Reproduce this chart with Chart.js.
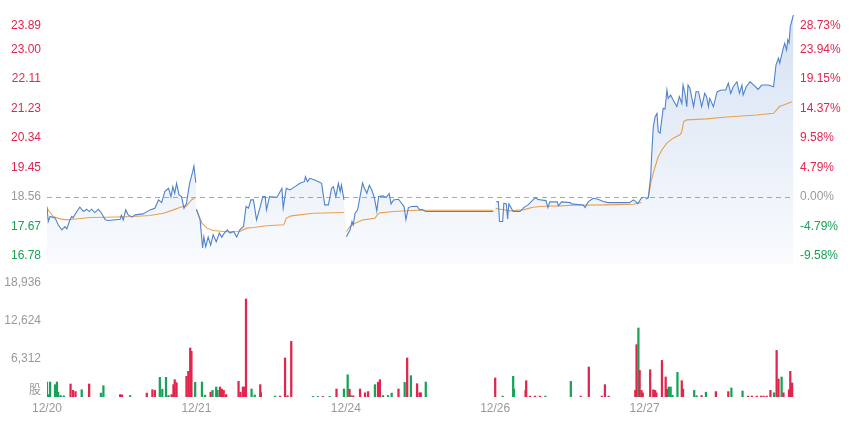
<!DOCTYPE html>
<html>
<head>
<meta charset="utf-8">
<script src="https://cdn.jsdelivr.net/npm/chart.js@4.4.1/dist/chart.umd.min.js"></script>
<style>
  html, body { margin: 0; padding: 0; background: #fff; }
  #wrap { position: relative; width: 856px; height: 429px; }
</style>
</head>
<body>
<div id="wrap"><canvas id="chart" width="856" height="429"></canvas></div>
<script>
// trading days on the x axis, 241 minutes each
const days = ['12/20', '12/21', '12/24', '12/26', '12/27'];
const preClose = 18.56;

const priceTicks = [16.78, 17.67, 18.56, 19.45, 20.34, 21.23, 22.11, 23.00, 23.89];
const pctTicks = ['-9.58%', '-4.79%', '0.00%', '4.79%', '9.58%', '14.37%', '19.15%', '23.94%', '28.73%'];
const volTicks = [6312, 12624, 18936];

// [minute of session, price]
const price1 = [[0,18.27],[2,17.82],[5,17.97],[13,17.93],[18,17.72],[24,17.57],[29,17.67],[32,17.60],[37,17.87],[40,17.97],
  [42,17.93],[48,18.12],[53,18.25],[59,18.12],[64,18.19],[68,18.12],[72,18.19],[77,18.09],[83,18.19],[88,18.07],
  [94,17.87],[99,17.85],[118,17.89],[120,18.01],[123,17.87],[127,18.17],[131,18.02],[137,17.95],[142,18.02],[155,18.05],
  [166,18.17],[174,18.22],[180,18.47],[185,18.39],[190,18.72],[196,18.82],[200,18.57],[203,18.87],[206,18.67],[209,18.97],
  [213,18.62],[217,18.57],[221,18.22],[225,18.37],[230,18.97],[235,19.32],[237,19.49],[240,18.99]];
const price2 = [[0,18.19],[6,17.87],[10,17.02],[12,17.36],[15,17.06],[19,17.35],[23,17.11],[27,17.42],[32,17.21],[37,17.47],
  [41,17.35],[45,17.47],[50,17.57],[54,17.47],[60,17.52],[65,17.35],[70,17.57],[76,17.67],[80,18.27],[84,18.22],
  [88,18.47],[92,18.47],[97,17.87],[103,18.27],[107,18.57],[111,18.57],[113,18.17],[118,18.57],[130,18.55],[138,18.82],
  [140,18.22],[145,18.82],[151,18.77],[159,18.87],[167,18.97],[174,19.02],[176,19.17],[179,19.02],[183,19.12],[191,19.07],
  [202,18.97],[207,18.32],[213,18.32],[218,18.82],[221,18.87],[225,18.57],[229,18.97],[232,18.72],[234,18.92],[238,18.47]];
const price3 = [[1,17.36],[4,17.47],[7,17.57],[10,17.82],[12,17.72],[15,18.07],[19,18.17],[23,18.57],[27,18.98],[30,18.82],
  [34,18.67],[38,18.91],[42,18.76],[46,18.54],[50,18.14],[53,18.57],[60,18.59],[65,18.54],[70,18.66],[73,18.35],
  [77,18.47],[85,18.49],[90,18.37],[94,18.27],[97,17.88],[101,18.24],[106,18.27],[115,18.28],[119,18.17],[123,18.18],
  [129,18.12],[238,18.12]];
const price4 = [[2,18.42],[5,18.42],[7,17.82],[12,17.82],[14,18.37],[18,18.35],[20,17.90],[22,18.35],[29,18.12],[40,18.12],
  [46,18.24],[53,18.32],[61,18.47],[65,18.54],[69,18.48],[82,18.45],[85,18.24],[88,18.41],[100,18.41],[102,18.29],
  [107,18.41],[121,18.39],[123,18.35],[142,18.32],[145,18.24],[150,18.41],[158,18.52],[166,18.49],[174,18.42],[182,18.39],
  [217,18.39],[223,18.47],[227,18.41],[230,18.36],[236,18.53],[239,18.55]];
const price5 = [[2,18.50],[6,18.54],[10,19.22],[11,19.67],[14,20.67],[17,20.98],[20,21.08],[22,20.53],[25,20.48],[30,21.23],
  [33,21.21],[36,21.78],[38,21.53],[42,21.63],[46,21.48],[52,21.28],[56,21.58],[60,21.38],[62,21.93],[65,21.69],
  [68,21.28],[70,21.93],[73,21.84],[79,21.28],[83,21.73],[87,21.73],[92,21.28],[97,21.68],[100,21.58],[103,21.28],
  [105,21.53],[111,21.28],[117,21.73],[124,21.78],[131,21.78],[135,21.99],[139,21.68],[143,21.88],[149,22.03],[153,21.68],
  [157,21.93],[159,21.63],[164,21.88],[170,22.03],[178,21.90],[183,21.80],[189,21.93],[200,21.93],[208,21.88],[212,22.54],
  [216,22.74],[218,22.59],[223,22.99],[226,23.19],[229,22.99],[231,23.29],[233,23.20],[235,23.69],[240,24.04]];

// [minute of session, average price]
const avg1 = [[0,18.22],[10,17.97],[21,17.90],[32,17.87],[42,17.89],[69,17.94],[96,17.95],[139,17.97],[166,18.00],[188,18.07],
  [204,18.17],[215,18.25],[225,18.29],[233,18.47],[238,18.52]];
const avg2 = [[0,18.17],[9,17.77],[17,17.62],[27,17.55],[49,17.51],[70,17.52],[81,17.62],[92,17.64],[113,17.69],[141,17.72],
  [145,17.92],[153,17.99],[189,18.07],[238,18.09]];
const avg3 = [[1,17.52],[7,17.67],[15,17.77],[28,17.87],[47,17.92],[52,18.05],[55,18.08],[77,18.12],[114,18.16],[238,18.16]];
const avg4 = [[1,18.21],[24,18.14],[45,18.17],[61,18.25],[78,18.28],[105,18.29],[126,18.31],[180,18.32],[223,18.34],[236,18.39]];
const avg5 = [[2,18.50],[6,18.56],[11,19.07],[17,19.47],[22,19.77],[28,19.98],[36,20.18],[46,20.33],[57,20.43],[60,20.52],
  [63,20.83],[68,20.88],[100,20.91],[127,20.96],[181,21.03],[208,21.08],[213,21.18],[218,21.29],[224,21.33],[238,21.43]];

// volume: minute index over the five days, shares, 1 = up (red) / 0 = down (green)
const volMinute = [0,2,5,13,16,18,22,27,38,42,46,56,68,87,91,118,121,134,161,170,174,182,186,192,196,201,204,206,209,225,228,231,233,239,
  250,255,264,267,273,275,279,282,285,289,309,312,316,318,321,330,335,344,345,368,376,384,388,394,429,437,445,456,467,479,
  485,488,490,494,505,513,518,529,534,537,542,550,556,567,577,581,587,597,601,603,611,
  723,735,752,753,772,773,779,787,795,804,845,861,874,895,900,906,949,951,954,956,959,961,
  973,978,981,983,992,998,1000,1003,1006,1009,1017,1024,1026,1044,1048,1056,1063,1079,1099,1104,1122,1131,1137,1145,1152,1156,1161,1167,1173,1177,1180,1185,1188,1197,1199,1202];
const volAmount = [2490,390,2490,2050,2490,780,250,200,2160,1110,900,1210,2160,650,1880,400,350,250,650,1210,1100,3270,1300,3270,250,400,2050,2870,2380,3430,4270,8140,7590,2430,
  2490,300,800,1100,1660,1100,1660,1330,1100,400,2600,800,1660,1660,16280,1330,350,2050,700,150,150,6480,200,9240,100,100,100,100,1330,1330,
  3700,1300,250,200,1330,700,900,2050,2430,2870,250,250,650,1330,2430,6480,3540,2210,700,700,2490,
  3160,150,3430,1300,1100,2710,150,150,150,150,2600,150,4980,150,2050,150,1100,8690,11460,4430,1100,700,
  4530,1200,1100,700,6080,3320,1300,1660,1660,300,4090,2710,1330,1100,200,250,800,900,900,1500,1000,150,150,150,150,150,150,1100,700,7740,2990,3320,700,1200,4250,2330];
const volUp = [0,0,0,0,0,0,0,0,1,1,1,0,1,0,0,1,1,0,1,1,1,0,0,0,0,1,1,1,1,1,1,1,1,0,
  0,0,1,0,0,0,1,1,1,1,1,1,1,1,1,0,0,1,1,0,1,1,1,1,0,0,1,0,1,0,
  0,1,0,1,1,1,1,0,1,1,0,0,0,1,0,1,0,1,1,1,0,
  1,0,0,0,1,1,1,1,1,0,0,1,1,1,1,1,1,1,0,1,1,1,
  1,1,1,1,1,1,1,0,0,0,0,1,1,0,0,1,0,1,1,0,0,1,1,1,1,1,1,1,0,1,1,0,1,1,1,1];

const RED = '#e2254d';
const GREEN = '#17a258';
const GRAY = '#999999';
const BLUE = '#4f83cc';
const ORANGE = '#e9a04e';
const FONT = '12px "Liberation Sans", Arial, "Noto Sans CJK SC", sans-serif';

// pane geometry (pixels inside the canvas)
const areaTop = 15, areaBottom = 397, pricePaneBottom = 264, volPaneTop = 283;
const priceMax = 24.04, priceMin = 16.54, volMax = 18936;
const pxPerPrice = (pricePaneBottom - areaTop) / (priceMax - priceMin);
const yAxisMin = priceMin - (areaBottom - pricePaneBottom) / pxPerPrice;
const vAxisMax = volMax * (areaBottom - areaTop) / (areaBottom - volPaneTop);

const DAY_LEN = 241;

function toSeries(perDay, withGaps) {
  const pts = [];
  perDay.forEach((list, d) => {
    list.forEach(([m, v]) => pts.push({ x: d * DAY_LEN + m, y: v }));
    if (withGaps) pts.push({ x: d * DAY_LEN + 240.5, y: null });
  });
  return pts;
}

const priceDays = [price1, price2, price3, price4, price5];
const priceData = toSeries(priceDays, true);
const areaData = toSeries(priceDays, false);
const avgData = toSeries([avg1, avg2, avg3, avg4, avg5], true);
const volData = volMinute.map((m, i) => ({ x: m, y: volAmount[i] }));
const volColors = volUp.map(u => (u ? RED : GREEN));

function priceColor(v) {
  if (Math.abs(v - preClose) < 0.001) return GRAY;
  return v > preClose ? RED : GREEN;
}

const baseLine = {
  id: 'baseLine',
  beforeDatasetsDraw(chart) {
    const { ctx, chartArea, scales } = chart;
    const y = Math.round(scales.y.getPixelForValue(preClose)) + 0.5;
    ctx.save();
    ctx.strokeStyle = '#aaaaaa';
    ctx.lineWidth = 1;
    ctx.setLineDash([5, 4]);
    ctx.beginPath();
    ctx.moveTo(chartArea.left, y);
    ctx.lineTo(chartArea.right, y);
    ctx.stroke();
    ctx.restore();
  }
};

const axisText = {
  id: 'axisText',
  afterDraw(chart) {
    const { ctx, chartArea, scales } = chart;
    ctx.save();
    ctx.font = FONT;
    ctx.textBaseline = 'middle';

    priceTicks.forEach((v, i) => {
      let y = scales.y.getPixelForValue(v);
      y = Math.max(y, chartArea.top + 11);
      ctx.fillStyle = priceColor(v);
      ctx.textAlign = 'right';
      ctx.fillText(v.toFixed(2), 41, y);
      ctx.textAlign = 'left';
      ctx.fillText(pctTicks[i], 800, y);
    });

    ctx.fillStyle = GRAY;
    ctx.textAlign = 'right';
    volTicks.forEach(v => {
      ctx.fillText(v.toLocaleString('en-US'), 41, scales.yv.getPixelForValue(v));
    });
    ctx.fillText('股', 41, scales.yv.getPixelForValue(0) - 6);

    ctx.textAlign = 'center';
    days.forEach((d, i) => {
      ctx.fillText(d, scales.x.getPixelForValue(i * DAY_LEN), 409);
    });
    ctx.restore();
  }
};

new Chart(document.getElementById('chart'), {
  type: 'bar',
  data: {
    datasets: [
      {
        // continuous shaded area under the price line
        type: 'line',
        data: areaData,
        yAxisID: 'y',
        borderWidth: 0,
        borderColor: 'rgba(0,0,0,0)',
        pointRadius: 0,
        tension: 0,
        fill: { value: priceMin },
        order: 3,
        backgroundColor: (c) => {
          const { ctx, chartArea, scales } = c.chart;
          if (!chartArea || !scales.y) return 'rgba(79,131,204,0.1)';
          const g = ctx.createLinearGradient(0, scales.y.getPixelForValue(priceMax), 0, scales.y.getPixelForValue(priceMin));
          g.addColorStop(0, 'rgba(79,131,204,0.24)');
          g.addColorStop(1, 'rgba(79,131,204,0.03)');
          return g;
        }
      },
      {
        type: 'line',
        data: priceData,
        yAxisID: 'y',
        borderColor: BLUE,
        borderWidth: 1.1,
        pointRadius: 0,
        tension: 0,
        spanGaps: false,
        fill: false,
        order: 1
      },
      {
        type: 'line',
        data: avgData,
        yAxisID: 'y',
        borderColor: ORANGE,
        borderWidth: 1.1,
        pointRadius: 0,
        tension: 0,
        spanGaps: false,
        fill: false,
        order: 2
      },
      {
        type: 'bar',
        data: volData,
        yAxisID: 'yv',
        backgroundColor: volColors,
        barThickness: 1.6,
        order: 4
      }
    ]
  },
  options: {
    responsive: false,
    animation: false,
    layout: { padding: { left: 47, right: 856 - 794, top: areaTop, bottom: 429 - areaBottom } },
    scales: {
      x: { type: 'linear', min: 0, max: 5 * DAY_LEN, offset: false, display: false },
      y: { type: 'linear', min: yAxisMin, max: priceMax, display: false },
      yv: { type: 'linear', min: 0, max: vAxisMax, display: false }
    },
    plugins: { legend: { display: false }, tooltip: { enabled: false } }
  },
  plugins: [baseLine, axisText]
});
</script>
</body>
</html>
